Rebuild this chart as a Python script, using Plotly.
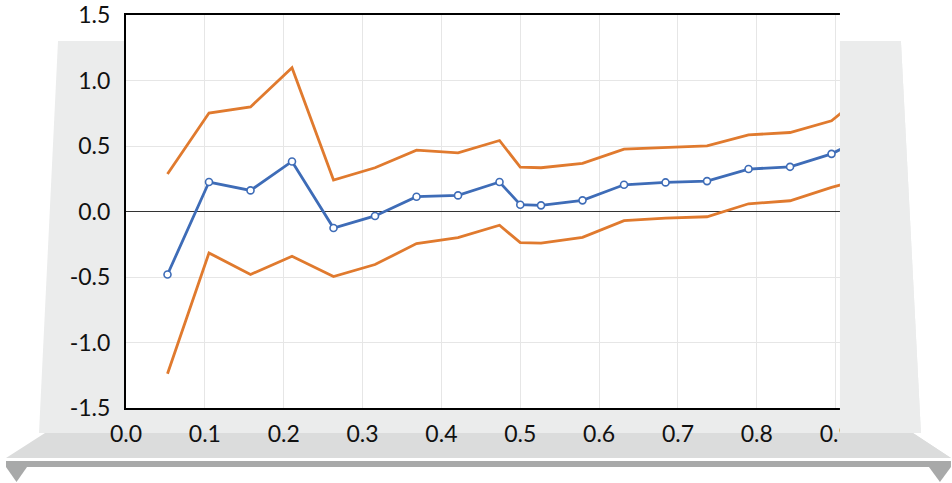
import plotly.graph_objects as go

# Sample positions (k/19 grid plus a midpoint at 0.5)
x_vals = [1/19, 2/19, 3/19, 4/19, 5/19, 6/19, 7/19, 8/19, 9/19, 0.5,
          10/19, 11/19, 12/19, 13/19, 14/19, 15/19, 16/19, 17/19, 18/19]

estimate = [-0.481, 0.225, 0.161, 0.382, -0.126, -0.034, 0.113, 0.123, 0.225, 0.052,
            0.047, 0.085, 0.204, 0.222, 0.232, 0.324, 0.341, 0.440, 0.60]
upper = [0.286, 0.752, 0.798, 1.098, 0.240, 0.334, 0.468, 0.448, 0.542, 0.339,
         0.334, 0.367, 0.476, 0.489, 0.501, 0.585, 0.603, 0.692, 0.95]
lower = [-1.238, -0.316, -0.481, -0.341, -0.496, -0.405, -0.245, -0.200, -0.105, -0.238,
         -0.242, -0.197, -0.070, -0.050, -0.040, 0.059, 0.082, 0.184, 0.27]

x_ticks = [0.0, 0.1, 0.2, 0.3, 0.4, 0.5, 0.6, 0.7, 0.8, 0.9]
y_ticks = [-1.5, -1.0, -0.5, 0.0, 0.5, 1.0, 1.5]

X_MAX = 0.96

W, H = 952, 483
L, T, PH = 126, 15, 393
PW = 788.6 * X_MAX

BLUE = "#3E6CB7"
ORANGE = "#E07A2E"
PANEL = "#EBECEC"
SHELF = "#DBDCDC"
BAND = "#A8A9A9"


def px(x):
    return (x - L) / PW


def py(y):
    return (T + PH - y) / PH


def poly(points):
    return "M " + " L ".join(f"{px(a):.5f},{py(b):.5f}" for a, b in points) + " Z"


fig = go.Figure()

fig.add_trace(go.Scatter(x=x_vals, y=upper, mode="lines",
                         line=dict(color=ORANGE, width=2.8), showlegend=False))
fig.add_trace(go.Scatter(x=x_vals, y=lower, mode="lines",
                         line=dict(color=ORANGE, width=2.8), showlegend=False))
fig.add_trace(go.Scatter(x=x_vals, y=estimate, mode="lines+markers",
                         line=dict(color=BLUE, width=2.8),
                         marker=dict(symbol="circle", size=7, color="white",
                                     line=dict(color=BLUE, width=1.6)),
                         showlegend=False))

shapes = [
    # back panel behind the chart
    dict(type="path", path=poly([(58, 41), (901, 41), (921, 433), (39, 433)]),
         xref="paper", yref="paper", fillcolor=PANEL, line=dict(width=0), layer="below"),
    # shelf
    dict(type="path", path=poly([(45, 433), (913, 433), (951, 458), (6, 458)]),
         xref="paper", yref="paper", fillcolor=SHELF, line=dict(width=0), layer="below"),
    # dark band under the shelf
    dict(type="path", path=poly([(6, 461), (951, 461), (951, 467), (6, 467)]),
         xref="paper", yref="paper", fillcolor=BAND, line=dict(width=0), layer="below"),
    # feet
    dict(type="path", path=poly([(6, 467), (27, 467), (16.5, 482)]),
         xref="paper", yref="paper", fillcolor=BAND, line=dict(width=0), layer="below"),
    dict(type="path", path=poly([(929, 467), (951, 467), (940, 482)]),
         xref="paper", yref="paper", fillcolor=BAND, line=dict(width=0), layer="below"),
    # white plotting surface
    dict(type="rect", x0=0, x1=1, y0=0, y1=1, xref="paper", yref="paper",
         fillcolor="white", line=dict(width=0), layer="below"),
    # right side panel in front of the chart
    dict(type="path", path=poly([(840, 41), (901, 41), (921, 433), (840, 433)]),
         xref="paper", yref="paper", fillcolor=PANEL, line=dict(width=0), layer="above"),
    dict(type="path", path=poly([(840, 433), (913, 433), (951, 458), (840, 458)]),
         xref="paper", yref="paper", fillcolor=SHELF, line=dict(width=0), layer="above"),
    # top edge above the side panel stays white
    dict(type="rect", x0=px(840), x1=1.2, y0=py(41), y1=py(0), xref="paper", yref="paper",
         fillcolor="white", line=dict(width=0), layer="above"),
]

FONT = dict(family="Lato, 'Open Sans', sans-serif", size=23, color="#111111")

fig.update_layout(
    width=W, height=H,
    margin=dict(l=L, r=W - L - PW, t=T, b=H - T - PH, pad=0),
    paper_bgcolor="white",
    plot_bgcolor="rgba(0,0,0,0)",
    shapes=shapes,
    font=FONT,
    xaxis=dict(range=[0, X_MAX], tickvals=x_ticks, ticktext=[f"{v:.1f}" for v in x_ticks],
               showgrid=True, gridcolor="#E6E6E6", gridwidth=1, automargin=False,
               showline=True, linecolor="black", linewidth=2, mirror=True,
               zeroline=False, ticks="", ticklabelstandoff=4, tickfont=FONT),
    yaxis=dict(range=[-1.5, 1.5], tickvals=y_ticks, ticktext=[f"{v:.1f}" for v in y_ticks],
               showgrid=True, gridcolor="#E6E6E6", gridwidth=1, automargin=False,
               showline=True, linecolor="black", linewidth=2, mirror=True,
               zeroline=True, zerolinecolor="#333333", zerolinewidth=1,
               ticks="", ticklabelstandoff=9, tickfont=FONT),
)

fig.write_html("out.html")
